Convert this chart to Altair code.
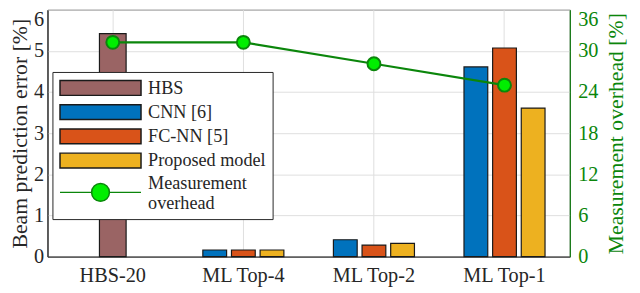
import altair as alt
import pandas as pd

categories = ["HBS-20", "ML Top-4", "ML Top-2", "ML Top-1"]
models = ["HBS", "CNN [6]", "FC-NN [5]", "Proposed model", "Measurement overhead"]
model_colors = ["#9a6464", "#0072bd", "#d95319", "#edb120", "#00ee00"]

hbs_error = [5.42]
ml_categories = ["ML Top-4", "ML Top-2", "ML Top-1"]
cnn_error = [0.16, 0.41, 4.61]
fcnn_error = [0.16, 0.28, 5.07]
proposed_error = [0.16, 0.32, 3.61]
overhead = [31.25, 31.25, 28.125, 25.0]

GREEN = "#0b860b"
DARK = "#262626"
FONT = "'Liberation Serif', 'Times New Roman', Times, 'DejaVu Serif', serif"

hbs_df = pd.DataFrame({"category": ["HBS-20"], "model": ["HBS"], "error": hbs_error})
rows = []
for m, slot, vals in [("CNN [6]", "a", cnn_error), ("FC-NN [5]", "b", fcnn_error), ("Proposed model", "c", proposed_error)]:
    for c, v in zip(ml_categories, vals):
        rows.append({"category": c, "model": m, "slot": slot, "error": v})
ml_df = pd.DataFrame(rows)
line_df = pd.DataFrame({"category": categories, "overhead": overhead, "model": ["Measurement overhead"] * 4})

rect_path = "M-5.47,-1H5.47V1H-5.47Z"
line_path = ("M-5.47,1.3H-1.2A1.2,1.2 0 1 1 1.2,1.3A1.2,1.2 0 1 1 -1.2,1.3M1.2,1.3H5.47")

legend = alt.Legend(title=None, orient="none", legendX=5, legendY=63, symbolSize=225,
                    symbolOffset=32.5, labelOffset=39, labelFontSize=18.4, labelColor=DARK,
                    labelFont=FONT, rowPadding=2.5, padding=7, strokeColor=DARK, fillColor="white",
                    symbolStrokeWidth=1.5, symbolOpacity=1,
                    labelExpr="datum.label == 'Measurement overhead' ? ['Measurement', 'overhead'] : datum.label")

x_enc = alt.X("category:N", sort=categories, title=None,
              scale=alt.Scale(paddingInner=0, paddingOuter=0),
              axis=alt.Axis(labelAngle=0, labelFontSize=20.5, labelColor=DARK, labelPadding=9,
                            labelFont=FONT, ticks=False, domainColor=DARK, grid=True,
                            gridColor="#dedede", bandPosition=0.5))
fill_scale = alt.Scale(domain=models, range=model_colors)

y_left = alt.Y("error:Q", scale=alt.Scale(domain=[0, 6]),
               axis=alt.Axis(title="Beam prediction error [%]", values=[0, 1, 2, 3, 4, 5, 6],
                             ticks=False, labelPadding=4, titlePadding=2, grid=True,
                             gridColor="#dedede", labelFontSize=20.5, titleFontSize=22,
                             labelFont=FONT, titleFont=FONT,
                             titleFontWeight="normal", labelColor=DARK, titleColor=DARK,
                             domainColor=DARK,
                             labelBaseline={"condition": {"test": "datum.value == 6", "value": "top"}, "value": "middle"}))

hbs_bars = alt.Chart(hbs_df).mark_bar(width=27, stroke="#1a1a1a", strokeWidth=1.2).encode(
    x=x_enc, y=y_left,
    fill=alt.Fill("model:N", scale=fill_scale, legend=legend),
)
ml_bars = alt.Chart(ml_df).mark_bar(stroke="#1a1a1a", strokeWidth=1.2).encode(
    x=x_enc, y=y_left,
    xOffset=alt.XOffset("slot:N", scale=alt.Scale(domain=["a", "b", "c"], paddingInner=0.17, paddingOuter=0.865)),
    fill=alt.Fill("model:N", scale=fill_scale, legend=legend),
)

y_right = alt.Y("overhead:Q", scale=alt.Scale(domain=[0, 36]),
                axis=alt.Axis(orient="right", title="Measurement overhead [%]", titleAngle=270,
                              titleBaseline="top", values=[0, 6, 12, 18, 24, 30, 36],
                              ticks=False, grid=False, labelPadding=8, titlePadding=8,
                              labelFontSize=20.5, titleFontSize=22, titleFontWeight="normal",
                              labelFont=FONT, titleFont=FONT,
                              labelColor=GREEN, titleColor=GREEN, domainColor=GREEN,
                              labelBaseline={"condition": {"test": "datum.value == 36", "value": "top"}, "value": "middle"}))

line = alt.Chart(line_df).mark_line(color=GREEN, strokeWidth=2.2).encode(x=x_enc, y=y_right)
points = alt.Chart(line_df).mark_point(filled=True, size=170, fill="#00ee00", stroke=GREEN,
                                       strokeWidth=2, opacity=1).encode(x=x_enc, y=y_right)

carrier = alt.Chart(line_df).transform_filter("false").mark_point(filled=True, size=225).encode(
    x=x_enc, y=y_right,
    fill=alt.Fill("model:N", scale=fill_scale, legend=legend),
    shape=alt.Shape("model:N", scale=alt.Scale(domain=models, range=[rect_path] * 4 + [line_path]), legend=legend),
    stroke=alt.Stroke("model:N", scale=alt.Scale(domain=models, range=["#1a1a1a"] * 4 + [GREEN]), legend=legend),
)

left = alt.layer(hbs_bars, ml_bars)
right = alt.layer(line, points, carrier)

chart = alt.layer(left, right).resolve_scale(y="independent").properties(
    width=529, height=250,
    padding={"left": 40, "top": 0, "right": 63, "bottom": 30},
    autosize=alt.AutoSizeParams(type="none"),
).configure(font=FONT).configure_view(stroke=DARK, strokeWidth=1)

chart.save("out.html", embed_options={"renderer": "svg", "actions": False})
